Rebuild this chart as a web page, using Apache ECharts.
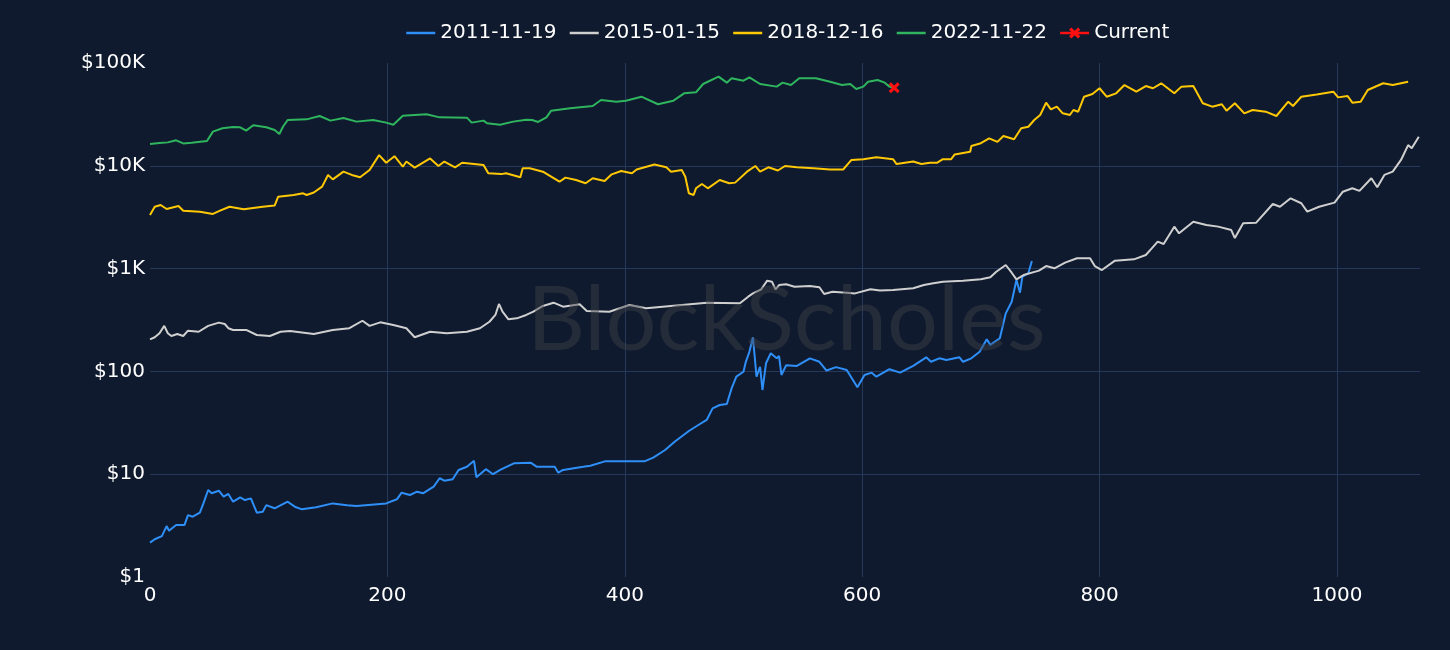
<!DOCTYPE html>
<html>
<head>
<meta charset="utf-8">
<style>
html,body{margin:0;padding:0;background:#0f1a2e;}
#chart{width:1450px;height:650px;}
</style>
<script src="https://cdn.jsdelivr.net/npm/echarts@6/dist/echarts.min.js"></script>
</head>
<body>
<div id="chart"></div>
<script>
const seriesNames = ['2011-11-19', '2015-01-15', '2018-12-16', '2022-11-22', 'Current'];
const yTickLabels = {1: '$1', 10: '$10', 100: '$100', 1000: '$1K', 10000: '$10K', 100000: '$100K'};

const s2011 = [[0,2.16],[4,2.33],[10,2.5],[14,3.13],[16,2.82],[22,3.2],[29,3.2],[32,4.0],[36,3.86],[42,4.22],[45,5.2],[49,7.02],[52,6.52],[58,6.91],[62,6.05],[66,6.42],[70,5.4],[76,5.96],[80,5.61],[85,5.82],[90,4.22],[95,4.31],[98,5.0],[105,4.66],[116,5.4],[122,4.83],[128,4.55],[140,4.76],[154,5.2],[166,5.0],[174,4.9],[199,5.2],[208,5.7],[212,6.61],[219,6.28],[225,6.76],[230,6.52],[239,7.56],[244,9.13],[248,8.65],[255,8.92],[260,11.0],[267,11.8],[273,13.5],[275,9.33],[283,11.2],[289,10.0],[295,11.0],[307,12.8],[321,12.9],[326,11.8],[341,11.8],[344,10.35],[348,11.0],[365,11.8],[371,12.1],[384,13.4],[417,13.4],[424,14.5],[434,17.2],[442,20.7],[454,26.3],[462,30.1],[469,33.7],[474,43.7],[480,47.1],[486,48.2],[490,68.4],[494,88.9],[500,99.3],[502,124],[505,155],[508,215],[511,88.9],[514,111],[516,65.9],[519,120],[523,150],[528,134],[530,141],[532,92.3],[536,115],[545,113],[556,134],[564,124],[570,102],[578,110],[587,103],[596,70],[602,92.3],[608,97.2],[612,88.9],[623,105],[632,97.2],[643,113],[654,137],[658,124],[665,134],[671,129],[682,137],[685,124],[692,134],[699,155],[705,205],[708,181],[716,210],[721,367],[726,476],[730,774],[733,583],[735,834],[740,900],[743,1186]];

const s2015 = [[0,205],[4,215],[8,235],[12,277],[15,235],[18,221],[23,231],[28,221],[32,249],[41,243],[49,277],[58,298],[63,289],[66,263],[70,253],[81,253],[90,226],[101,221],[110,243],[118,247],[138,231],[154,253],[168,263],[179,311],[185,277],[194,300],[205,283],[216,263],[223,215],[236,243],[250,235],[267,243],[278,263],[286,304],[291,354],[294,453],[297,381],[302,321],[309,328],[317,354],[323,381],[331,433],[340,466],[348,426],[362,450],[368,387],[387,381],[404,442],[418,411],[469,466],[497,460],[504,533],[508,574],[515,629],[520,763],[524,746],[527,629],[530,692],[536,703],[543,667],[556,677],[564,658],[568,566],[575,596],[587,583],[594,574],[607,629],[615,611],[626,620],[643,643],[652,692],[660,719],[668,746],[685,763],[700,787],[708,823],[713,933],[721,1084],[722,1109],[726,912],[730,787],[736,866],[749,955],[755,1059],[762,1006],[771,1142],[781,1260],[792,1260],[796,1059],[802,969],[813,1194],[829,1231],[839,1355],[844,1575],[849,1828],[854,1733],[863,2556],[867,2204],[879,2860],[890,2650],[900,2560],[911,2370],[914,1980],[921,2760],[932,2800],[946,4250],[952,4000],[961,4830],[970,4320],[975,3580],[985,4000],[998,4380],[1005,5600],[1013,6040],[1019,5700],[1029,7560],[1034,6180],[1040,8150],[1047,8770],[1054,11400],[1060,15900],[1063,14800],[1069,19200]];

const s2018 = [[0,3320],[4,4000],[9,4160],[14,3800],[24,4060],[28,3660],[42,3580],[53,3400],[59,3660],[67,4000],[79,3780],[95,4000],[105,4100],[108,5000],[121,5200],[129,5400],[132,5200],[138,5500],[145,6270],[150,8150],[154,7380],[163,8770],[170,8150],[177,7730],[185,9100],[193,12700],[199,10700],[206,12400],[213,9800],[216,11000],[223,9600],[236,11800],[243,9960],[248,11000],[257,9670],[263,10700],[281,10200],[285,8450],[296,8300],[300,8450],[312,7730],[314,9460],[320,9460],[331,8770],[345,7000],[350,7670],[359,7280],[367,6760],[373,7560],[383,7100],[389,8260],[397,8900],[406,8450],[410,9200],[425,10300],[435,9670],[439,8770],[448,9100],[451,7830],[454,5400],[458,5200],[460,6040],[465,6650],[470,6040],[480,7280],[488,6760],[493,6860],[503,8770],[510,9960],[514,8770],[521,9670],[529,9000],[535,9960],[545,9670],[559,9460],[573,9200],[584,9200],[591,11400],[601,11600],[612,12100],[626,11600],[629,10400],[643,11000],[650,10400],[657,10700],[663,10700],[668,11600],[675,11600],[678,12900],[691,13700],[692,15600],[700,16600],[707,18500],[714,17100],[719,19500],[728,18100],[734,23200],[740,24000],[745,27900],[750,31200],[755,41100],[759,35400],[764,37600],[769,32400],[775,31200],[778,34900],[782,33600],[787,47000],[794,49900],[800,56800],[806,47000],[814,50700],[821,61000],[831,52600],[839,59700],[845,56800],[852,63500],[863,50700],[869,58900],[879,59700],[887,40600],[895,37600],[903,39700],[907,34400],[914,40600],[922,32400],[929,34900],[940,33600],[949,30500],[959,42000],[963,38200],[970,47000],[983,49500],[997,52600],[1001,46300],[1009,47800],[1013,41100],[1020,42000],[1026,54600],[1039,63500],[1047,61000],[1060,65800]];

const s2022 = [[0,16300],[8,16700],[15,16900],[22,17700],[28,16500],[35,16800],[48,17400],[53,21500],[61,23200],[70,23800],[76,23700],[81,22000],[87,24800],[98,23700],[105,22300],[109,20400],[112,24000],[116,27900],[132,28300],[143,30500],[152,27500],[163,29200],[174,26900],[188,27900],[199,26300],[205,25100],[213,30700],[233,31700],[244,29600],[267,29400],[271,26300],[281,27500],[284,25900],[295,25100],[306,26900],[317,28100],[322,27900],[327,26700],[334,29600],[338,34400],[354,36200],[373,38200],[380,43700],[393,42000],[401,43000],[414,47000],[428,39700],[441,43000],[450,50700],[460,51900],[466,62500],[479,73600],[486,64400],[490,71000],[500,67300],[505,72600],[514,62500],[528,58900],[533,64400],[540,61000],[547,71000],[561,71000],[573,65800],[583,61000],[590,62500],[595,55900],[601,58900],[605,65800],[613,68300],[619,64400],[623,58900],[626,57500]];

const sCurrent = [[627,57500]];

const colors = ['#2f8ff8', '#cfcfcf', '#ffc805', '#2fb55e', '#ff1010'];
const xSymbol = 'path://M0,2 L2,0 L5,3 L8,0 L10,2 L7,5 L10,8 L8,10 L5,7 L2,10 L0,8 L3,5 Z';
const FONT = 'DejaVu Sans';

const chart = echarts.init(document.getElementById('chart'), null, {renderer: 'canvas'});
const lineData = [s2011, s2015, s2018, s2022];
const series = lineData.map((d, i) => ({
  name: seriesNames[i],
  type: 'line',
  data: d,
  symbol: 'none',
  lineStyle: {width: 2, color: colors[i]},
  itemStyle: {color: colors[i]},
  z: 2
}));
series.push({
  name: seriesNames[4],
  type: 'line',
  data: sCurrent,
  symbol: xSymbol,
  symbolSize: 11,
  showSymbol: true,
  lineStyle: {width: 2, color: colors[4]},
  itemStyle: {color: colors[4]},
  z: 5
});

const legendData = seriesNames.map((n, i) => i < 4
  ? {name: n, itemStyle: {opacity: 0}, lineStyle: {width: 2.5}}
  : {name: n, lineStyle: {width: 2.5}});

chart.setOption({
  animation: false,
  backgroundColor: '#0f1a2e',
  textStyle: {fontFamily: FONT},
  legend: {
    data: legendData,
    top: 18,
    left: 400,
    itemWidth: 29,
    itemHeight: 14,
    itemGap: 12,
    textStyle: {color: '#ffffff', fontSize: 20, fontFamily: FONT}
  },
  grid: {left: 150, right: 30, top: 63, bottom: 73, containLabel: false},
  xAxis: {
    type: 'value',
    min: 0,
    max: 1070,
    interval: 200,
    axisLine: {show: false},
    axisTick: {show: false},
    axisLabel: {color: '#ffffff', fontSize: 20, fontFamily: FONT, margin: 9, showMaxLabel: false,
      formatter: v => String(v)},
    splitLine: {show: true, showMinLine: false, showMaxLine: false, lineStyle: {color: '#27395b', width: 1}}
  },
  yAxis: {
    type: 'log',
    logBase: 10,
    min: 1,
    max: 100000,
    axisLine: {show: false},
    axisTick: {show: false},
    axisLabel: {color: '#ffffff', fontSize: 20, fontFamily: FONT, margin: 5,
      formatter: v => yTickLabels[Math.round(v)] || ''},
    splitLine: {show: true, showMinLine: false, showMaxLine: false, lineStyle: {color: '#27395b', width: 1}}
  },
  graphic: [{
    type: 'text',
    left: 785 - 258,
    top: 276,
    z: 100,
    silent: true,
    style: {text: 'BlockScholes', font: '90px Lato', fill: 'rgba(62,64,72,0.45)'}
  }],
  series: series
});
</script>
</body>
</html>
